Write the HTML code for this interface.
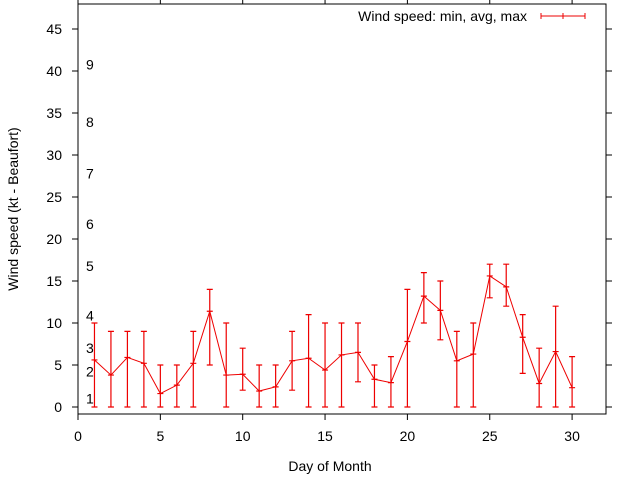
<!DOCTYPE html>
<html><head><meta charset="utf-8"><style>
html,body{margin:0;padding:0;background:#fff}
svg text{font-family:"Liberation Sans",sans-serif;font-size:14px;fill:#000}
</style></head><body>
<svg id="c" width="640" height="480" viewBox="0 0 640 480">
<rect x="78" y="4" width="528" height="410" fill="none" stroke="#000" stroke-width="1"/>
<text x="330" y="471" text-anchor="middle">Day of Month</text>
<text transform="translate(18,209) rotate(-90)" text-anchor="middle">Wind speed (kt - Beaufort)</text>
<g>
<text x="527" y="21" text-anchor="end">Wind speed: min, avg, max</text>
<path d="M541 16H585M541 13V19M563 13V19M585 13V19" stroke="#e00" stroke-width="1"/>
</g>
</svg>
<script>
const days=[1,2,3,4,5,6,7,8,9,10,11,12,13,14,15,16,17,18,19,20,21,22,23,24,25,26,27,28,29,30];
const avgSpeed=[5.6,3.8,5.9,5.2,1.6,2.6,5.2,11.4,3.8,3.9,1.9,2.4,5.5,5.8,4.4,6.2,6.5,3.3,2.9,7.8,13.2,11.5,5.5,6.3,15.6,14.3,8.3,2.8,6.6,2.3];
const minSpeed=[0,0,0,0,0,0,0,5,0,2,0,0,2,0,0,0,3,0,0,0,10,8,0,0,13,12,4,0,0,0];
const maxSpeed=[10,9,9,9,5,5,9,14,10,7,5,5,9,11,10,10,10,5,6,14,16,15,9,10,17,17,11,7,12,6];
const xTicks=[0,5,10,15,20,25,30];
const yTicks=[0,5,10,15,20,25,30,35,40,45];
const beaufortLabels=["1","2","3","4","5","6","7","8","9"];
const beaufortKt=[1,4.2,7,10.9,16.8,21.8,27.8,33.9,40.8];
const NS="http://www.w3.org/2000/svg";
const svg=document.getElementById('c');
const X=v=>78+v*16.47;
const Y=v=>407-v*8.4;
function mk(t,a){const e=document.createElementNS(NS,t);for(const k in a)e.setAttribute(k,a[k]);svg.appendChild(e);return e;}
xTicks.forEach(v=>{
 const t=mk('path',{d:`M${X(v)} 414V420M${X(v)} 4V-2`,stroke:'#000'});
 
 
 const l=mk('text',{x:X(v),y:441,'text-anchor':'middle'});l.textContent=v;
 
 
});
yTicks.forEach(v=>{
 const t=mk('path',{d:`M78 ${Y(v)}H72M606 ${Y(v)}H612`,stroke:'#000'});
 
 
 const l=mk('text',{x:62,y:Y(v)+5,'text-anchor':'end'});l.textContent=v;
 
 
});
beaufortLabels.forEach((s,i)=>{
 const l=mk('text',{x:86,y:Y(beaufortKt[i])+5});l.textContent=s;
 
 
});
let d='';
days.forEach((dd,i)=>{d+=(i?'L':'M')+X(dd)+' '+Y(avgSpeed[i]);});
const line=mk('path',{d:d,fill:'none',stroke:'#e00','stroke-width':1});


days.forEach((dd,i)=>{
 const x=X(dd);
 const e=mk('path',{d:`M${x} ${Y(minSpeed[i])}V${Y(maxSpeed[i])}M${x-3} ${Y(minSpeed[i])}H${x+3}M${x-3} ${Y(maxSpeed[i])}H${x+3}M${x-3} ${Y(avgSpeed[i])}H${x+3}`,stroke:'#e00','stroke-width':1.2,fill:'none'});
 
 
});
</script>
</body></html>
